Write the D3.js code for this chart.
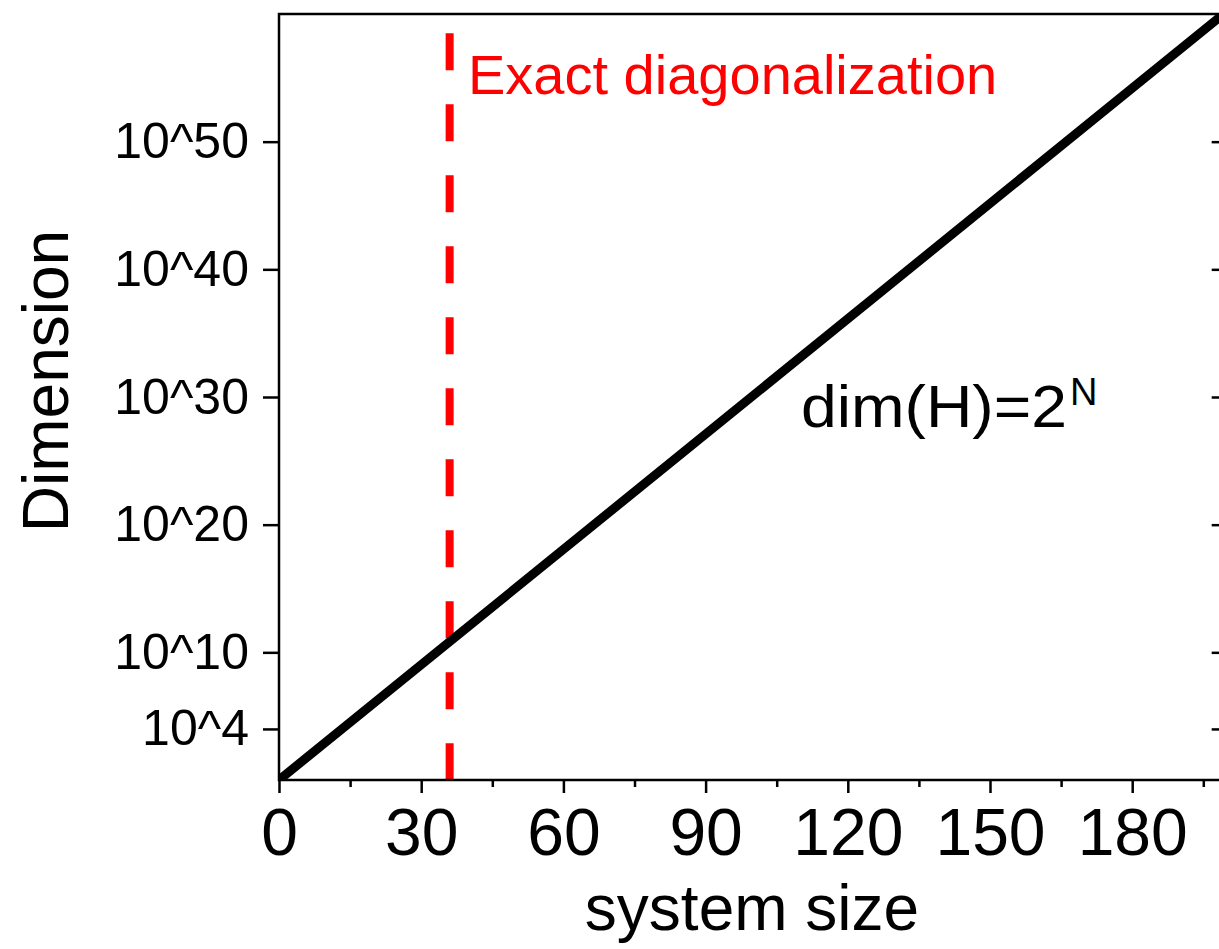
<!DOCTYPE html>
<html>
<head>
<meta charset="utf-8">
<script src="https://cdn.jsdelivr.net/npm/d3@7"></script>
<style>
  html, body { margin: 0; padding: 0; background: #fff; }
  svg { display: block; font-family: "Liberation Sans", Arial, sans-serif; }
</style>
</head>
<body>
<svg id="chart" width="1219" height="949"></svg>
<script>
// Hilbert-space dimension dim(H) = 2^N versus system size N
const systemSize = [0, 199.3];
const dimension = [1, 1e60];

const xTickValues = [0, 30, 60, 90, 120, 150, 180];
const xMinorTicks = [15, 45, 75, 105, 135, 165, 195];
const yTickValues = [1e4, 1e10, 1e20, 1e30, 1e40, 1e50];
const yTickLabels = ["10^4", "10^10", "10^20", "10^30", "10^40", "10^50"];

// exact-diagonalization limit
const edLimit = [36];
const edTop = [Math.pow(10, 58.5)];

const plotLeft = 279, plotTop = 14, plotBottom = 780;
const pxPerUnit = 142.2 / 30;
const plotRight = plotLeft + systemSize[1] * pxPerUnit;

const svg = d3.select("#chart");

const x = d3.scaleLinear().domain([0, systemSize[1]]).range([plotLeft, plotRight]);
const y = d3.scaleLog().domain([dimension[0], dimension[1]]).range([plotBottom, plotTop]);

svg.append("defs").append("clipPath").attr("id", "plot-clip")
  .append("rect").attr("x", plotLeft).attr("y", plotTop)
  .attr("width", plotRight - plotLeft).attr("height", plotBottom - plotTop);

const plot = svg.append("g").attr("clip-path", "url(#plot-clip)");

// ED limit (dashed red)
plot.selectAll("line.ed").data(edLimit).join("line")
  .attr("class", "ed")
  .attr("x1", d => x(d)).attr("x2", d => x(d))
  .attr("y1", y(edTop[0])).attr("y2", plotBottom)
  .attr("stroke", "#ff0000").attr("stroke-width", 8)
  .attr("stroke-dasharray", "37 34");

// dim(H) = 2^N
const pts = systemSize.map((n, i) => [n, dimension[i]]);
plot.append("path")
  .datum(pts)
  .attr("d", d3.line().x(d => x(d[0])).y(d => y(d[1])))
  .attr("fill", "none").attr("stroke", "#000").attr("stroke-width", 9);

// Bottom axis
const xAxis = d3.axisBottom(x).tickValues(xTickValues).tickSize(13).tickPadding(15)
  .tickFormat(d3.format("d"));
const gx = svg.append("g").attr("transform", `translate(0,${plotBottom})`).call(xAxis);
gx.select(".domain").remove();
gx.selectAll(".tick line").attr("stroke-width", 2.5);
gx.selectAll(".tick text").attr("font-size", 66).attr("font-family", "Liberation Sans, Arial, sans-serif")
  .attr("fill", "#000");

const gxm = svg.append("g").attr("transform", `translate(0,${plotBottom})`)
  .call(d3.axisBottom(x).tickValues(xMinorTicks).tickSize(7).tickFormat(""));
gxm.select(".domain").remove();
gxm.selectAll(".tick line").attr("stroke-width", 2.5);

// Left axis
const yAxis = d3.axisLeft(y).tickValues(yTickValues).tickSize(16).tickPadding(14)
  .tickFormat((d, i) => yTickLabels[i]);
const gy = svg.append("g").attr("transform", `translate(${plotLeft},0)`).call(yAxis);
gy.select(".domain").remove();
gy.selectAll(".tick line").attr("stroke-width", 2.5);
gy.selectAll(".tick text").attr("font-size", 50).attr("font-family", "Liberation Sans, Arial, sans-serif")
  .attr("fill", "#000");

// Right axis (inner ticks)
const gr = svg.append("g").attr("transform", `translate(${plotRight},0)`)
  .call(d3.axisLeft(y).tickValues(yTickValues).tickSize(12).tickFormat(""));
gr.select(".domain").remove();
gr.selectAll(".tick line").attr("stroke-width", 2.5);

// Frame
svg.append("rect").attr("x", plotLeft).attr("y", plotTop)
  .attr("width", plotRight - plotLeft).attr("height", plotBottom - plotTop)
  .attr("fill", "none").attr("stroke", "#000").attr("stroke-width", 2.5);

// Axis titles
svg.append("text").attr("x", 752).attr("y", 930)
  .attr("text-anchor", "middle").attr("font-size", 64).text("system size");
svg.append("text").attr("transform", "translate(68,381) rotate(-90)")
  .attr("text-anchor", "middle").attr("font-size", 64).text("Dimension");

// Annotations
svg.append("text").attr("x", 468).attr("y", 94)
  .attr("font-size", 56).attr("fill", "#ff0000").text("Exact diagonalization");

const dimLabel = svg.append("text").attr("x", 801).attr("y", 427).attr("font-size", 60).attr("fill", "#000");
dimLabel.append("tspan").attr("textLength", 266).attr("lengthAdjust", "spacingAndGlyphs").text("dim(H)=2");
dimLabel.append("tspan").attr("font-size", 38).attr("dx", 3).attr("dy", -22).text("N");
</script>
</body>
</html>
